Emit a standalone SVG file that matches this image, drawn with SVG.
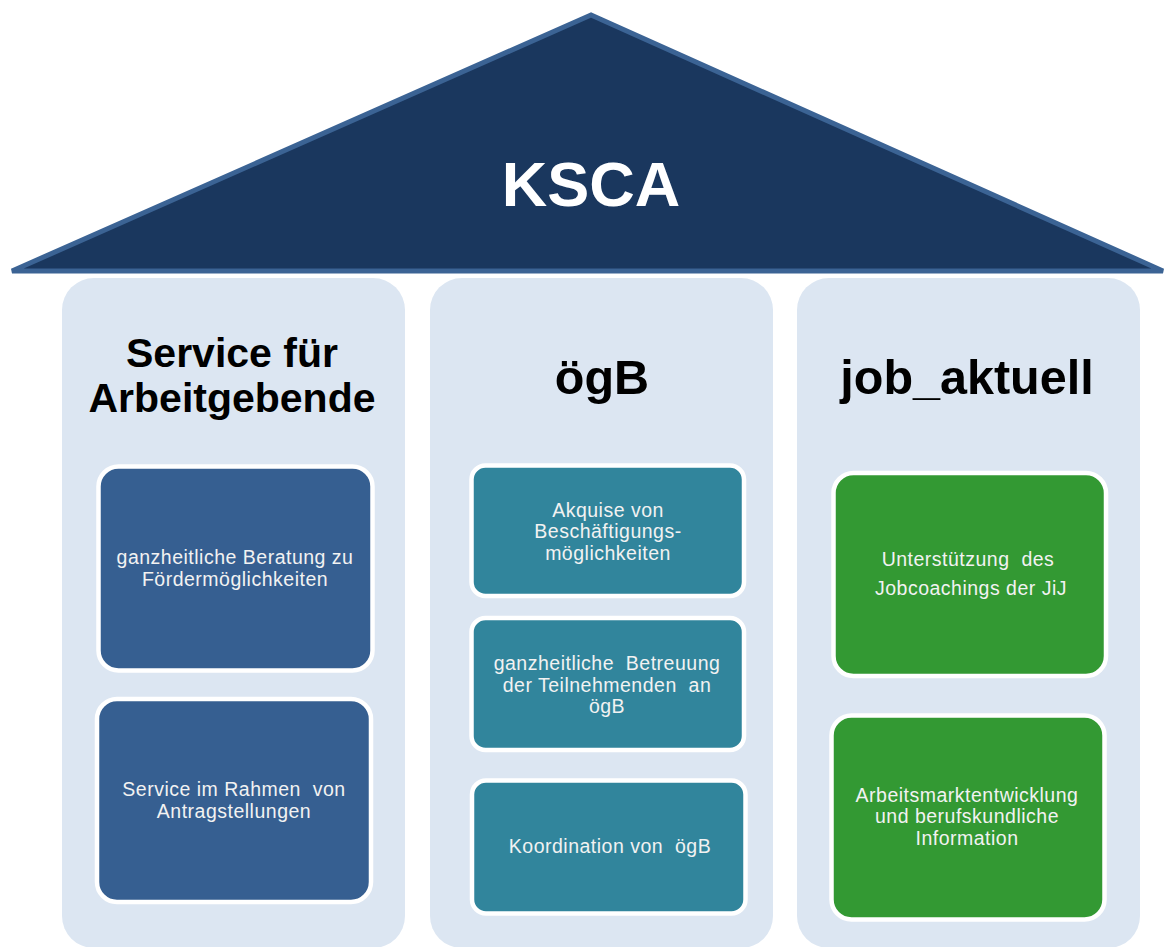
<svg xmlns="http://www.w3.org/2000/svg" width="1165" height="947" viewBox="0 0 1165 947">
  <style>
    .col { fill: #dce6f2; }
    .head { font-family: "Liberation Sans", Arial, sans-serif; font-weight: bold; font-size: 41px; fill: #000; text-anchor: middle; }
    .big { font-size: 48.5px; }
    .box { stroke: #ffffff; stroke-width: 4.5; }
    .blue { fill: #365f91; }
    .teal { fill: #31859c; }
    .green { fill: #339933; }
    .lbl { font-family: "Liberation Sans", Arial, sans-serif; font-size: 19.5px; letter-spacing: 0.5px; fill: #f2f2f2; text-anchor: middle; white-space: pre; }
  </style>

  <!-- roof -->
  <g id="roof">
    <polygon points="591,15 12,271 1163,271" fill="#1a375e" stroke="#3b6394" stroke-width="5" stroke-linejoin="miter"/>
    <text x="591" y="206" font-family="Liberation Sans, Arial, sans-serif" font-weight="bold" font-size="63" fill="#ffffff" text-anchor="middle">KSCA</text>
  </g>

  <!-- column 1 -->
  <g id="col-service">
    <rect class="col" x="62" y="278" width="343" height="670" rx="32"/>
    <text class="head" x="232" y="367">Service für</text>
    <text class="head" x="232" y="412">Arbeitgebende</text>
  </g>
  <g id="node-beratung">
    <rect class="box blue" x="98.5" y="466.5" width="274" height="204" rx="20"/>
    <text class="lbl" x="235" y="564">ganzheitliche Beratung zu</text>
    <text class="lbl" x="235" y="586">Fördermöglichkeiten</text>
  </g>
  <g id="node-antrag">
    <rect class="box blue" x="97" y="699" width="274" height="203" rx="20"/>
    <text class="lbl" x="234" y="796" xml:space="preserve">Service im Rahmen  von</text>
    <text class="lbl" x="234" y="818">Antragstellungen</text>
  </g>

  <!-- column 2 -->
  <g id="col-oegb">
    <rect class="col" x="430" y="278" width="343" height="670" rx="32"/>
    <text class="head big" x="602" y="394">ögB</text>
  </g>
  <g id="node-akquise">
    <rect class="box teal" x="471.5" y="465.5" width="272.5" height="130.5" rx="14"/>
    <text class="lbl" x="608" y="517">Akquise von</text>
    <text class="lbl" x="608" y="538">Beschäftigungs-</text>
    <text class="lbl" x="608" y="560">möglichkeiten</text>
  </g>
  <g id="node-betreuung">
    <rect class="box teal" x="471.5" y="618" width="272.5" height="132" rx="14"/>
    <text class="lbl" x="607" y="670" xml:space="preserve">ganzheitliche  Betreuung</text>
    <text class="lbl" x="607" y="692" xml:space="preserve">der Teilnehmenden  an</text>
    <text class="lbl" x="607" y="713">ögB</text>
  </g>
  <g id="node-koordination">
    <rect class="box teal" x="472" y="780.5" width="273.5" height="133" rx="14"/>
    <text class="lbl" x="610" y="853" xml:space="preserve">Koordination von  ögB</text>
  </g>

  <!-- column 3 -->
  <g id="col-job">
    <rect class="col" x="797" y="278" width="343" height="670" rx="32"/>
    <text class="head big" x="967" y="394">job_aktuell</text>
  </g>
  <g id="node-jobcoaching">
    <rect class="box green" x="833.5" y="473" width="272.5" height="203" rx="20"/>
    <text class="lbl" x="968" y="566" xml:space="preserve">Unterstützung  des</text>
    <text class="lbl" x="971" y="595">Jobcoachings der JiJ</text>
  </g>
  <g id="node-arbeitsmarkt">
    <rect class="box green" x="831.5" y="715.5" width="273" height="204" rx="20"/>
    <text class="lbl" x="967" y="802">Arbeitsmarktentwicklung</text>
    <text class="lbl" x="967" y="823">und berufskundliche</text>
    <text class="lbl" x="967" y="845">Information</text>
  </g>

  <!-- connectors: none drawn; boxes are stacked inside the pillars -->
  <g id="connectors"/>
</svg>
